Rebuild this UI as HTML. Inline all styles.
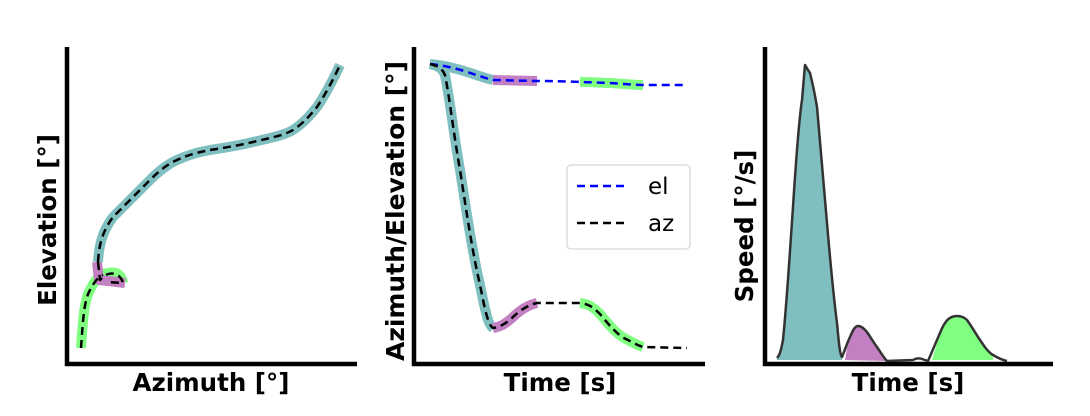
<!DOCTYPE html>
<html><head><style>
body{margin:0;background:#fff;}
svg text{font-family:"DejaVu Sans","Liberation Sans",sans-serif;}
</style></head><body>
<svg width="1090" height="411" viewBox="0 0 1090 411" xmlns="http://www.w3.org/2000/svg">
<rect width="1090" height="411" fill="#fff"/>
<g fill="none" stroke-linecap="butt" stroke-linejoin="round">
<!-- Panel 1 -->
<path d="M81,348 C83,320 84,300 90,290 C95,280 100,273 108,273 C118,271 122,276 123,283" stroke="#80ff80" stroke-width="10"/>
<path d="M97,262 L99,280 L125,283" stroke="#c27fc2" stroke-width="10"/>
<path d="M98,262 C99,245 102,232 113,217 C125,205 138,192 150,180 C160,170 168,164 177,160 C190,154 200,152 210,150 C230,147 245,144 253,142 C270,138 285,135 293,130 C305,122 310,115 317,107 C325,95 333,80 340,65" stroke="#80bfbf" stroke-width="10"/>
<path d="M81,348 C83,320 84,300 90,290 C95,280 100,276 103,275 M98,262 C99,245 102,232 113,217 C125,205 138,192 150,180 C160,170 168,164 177,160 C190,154 200,152 210,150 C230,147 245,144 253,142 C270,138 285,135 293,130 C305,122 310,115 317,107 C325,95 333,80 340,65 M98,262 L100,280 L104,276 C110,272 120,272 123,283 L108,282" stroke="#000" stroke-width="2.5" stroke-dasharray="8,5"/>
<!-- Panel 2 -->
<path d="M430,64 C440,65 445,66 453,68 C470,72 480,77 493,80" stroke="#80bfbf" stroke-width="10"/>
<path d="M493,80 L537,81" stroke="#c27fc2" stroke-width="10"/>
<path d="M580,82 C595,82 605,83 610,83 C625,84 635,85 643,85" stroke="#80ff80" stroke-width="10"/>
<path d="M430,64 C438,66 442,68 445,75 C450,100 453,130 460,170 C467,215 472,250 480,285 C485,310 488,325 493,328" stroke="#80bfbf" stroke-width="10"/>
<path d="M493,328 C500,327 505,324 512,318 C520,310 528,305 537,303" stroke="#c27fc2" stroke-width="10"/>
<path d="M580,303 C588,304 592,306 600,314 C610,326 618,336 628,340 C635,344 640,346 643,347" stroke="#80ff80" stroke-width="10"/>
<path d="M430,64 C440,65 445,66 453,68 C470,72 480,77 493,80 L537,81 C560,81 580,82 610,83 C625,84 635,85 643,85 L687,85" stroke="#0000ff" stroke-width="2.5" stroke-dasharray="8,5"/>
<path d="M430,64 C438,66 442,68 445,75 C450,100 453,130 460,170 C467,215 472,250 480,285 C485,310 488,325 493,328 C500,327 505,324 512,318 C520,310 528,305 537,303 L580,303 C588,304 592,306 600,314 C610,326 618,336 628,340 C635,344 640,346 643,347 L687,348" stroke="#000" stroke-width="2.5" stroke-dasharray="8,5"/>
<!-- Panel 3 -->
<path d="M777,358 C780,355 781,350 783,340 C787,300 790,250 793,207 C796,160 799,120 802,100 L805,65 C808,70 810,73 810,73 C813,85 815,95 817,107 C821,150 824,190 827,223 C831,270 834,300 837,323 C839,345 840,355 842,358 L842,360 L777,360 Z" fill="#80bfbf" stroke="none"/>
<path d="M845,360 L847,348 C850,337 853,326 858,326 C862,326 865,330 867,332 C871,338 874,343 877,347 C881,353 884,358 887,361 Z" fill="#c27fc2" stroke="none"/>
<path d="M932,360 L940,333 C945,320 950,316 957,316 C962,316 965,318 967,320 C972,327 976,334 980,340 C984,346 988,350 993,356 L993,360 Z" fill="#80ff80" stroke="none"/>
<path d="M777,358 C780,355 781,350 783,340 C787,300 790,250 793,207 C796,160 799,120 802,100 L805,65 C808,70 810,73 810,73 C813,85 815,95 817,107 C821,150 824,190 827,223 C831,270 834,300 837,323 C839,345 840,355 842,357 C845,350 847,343 850,337 C853,330 855,326 858,326 C862,326 865,330 867,332 C871,338 874,343 877,347 C881,353 884,358 887,361 L913,360 C916,358 920,358 922,359 L928,361 C932,352 936,342 940,333 C945,320 950,316 957,316 C962,316 965,318 967,320 C972,327 976,334 980,340 C984,346 988,352 993,355 C998,358 1002,360 1007,361" stroke="#333" stroke-width="2.5"/>
</g>
<!-- axes -->
<g stroke="#000" stroke-width="4.5" fill="none">
<path d="M67,47 L67,364 L357,364"/>
<path d="M414,47 L414,364 L705,364"/>
<path d="M765,47 L765,364 L1053,364"/>
</g>
<!-- legend -->
<rect x="567" y="165" width="123" height="84" rx="4" fill="#fff" stroke="#ccc" stroke-width="1"/>
<line x1="577" y1="186" x2="628" y2="186" stroke="#0000ff" stroke-width="2.5" stroke-dasharray="8,5"/>
<line x1="577" y1="223" x2="628" y2="223" stroke="#000" stroke-width="2.5" stroke-dasharray="8,5"/>
<text x="648" y="194" font-size="23" fill="#000">el</text>
<text x="648" y="231" font-size="23" fill="#000">az</text>
<!-- labels -->
<g font-size="24.5" font-weight="bold" fill="#000" text-anchor="middle">
<text x="211" y="391">Azimuth [°]</text>
<text x="560" y="391">Time [s]</text>
<text x="908" y="391">Time [s]</text>
<text transform="translate(56,220) rotate(-90)">Elevation [°]</text>
<text transform="translate(404,211) rotate(-90)" textLength="300" lengthAdjust="spacingAndGlyphs">Azimuth/Elevation [°]</text>
<text transform="translate(753,226) rotate(-90)">Speed [°/s]</text>
</g>
</svg>
</body></html>
